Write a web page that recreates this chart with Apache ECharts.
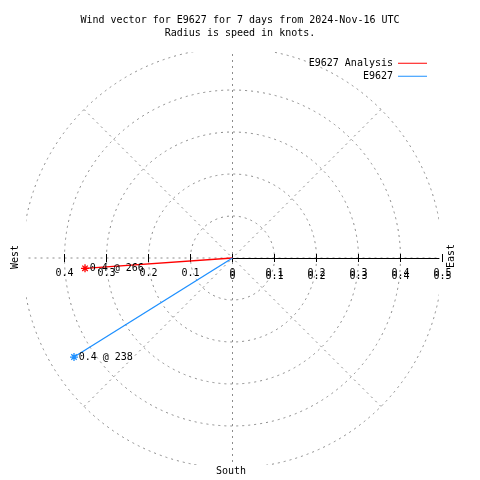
<!DOCTYPE html>
<html>
<head>
<meta charset="utf-8">
<style>html,body{margin:0;padding:0;background:#fff;}#c{width:480px;height:480px;}</style>
<script src="https://cdn.jsdelivr.net/npm/echarts@6/dist/echarts.min.js"></script>
</head>
<body>
<div id="c"></div>
<script>
// ---- data ----
const seriesNames = ['E9627 Analysis', 'E9627'];
const speeds = [0.352, 0.445];      // knots
const directions = [266, 238];      // degrees
const seriesColors = ['#ff0000', '#1e90ff'];
const tickValues = [-0.4, -0.3, -0.2, -0.1, 0, 0.1, 0.2, 0.3, 0.4, 0.5];
const eastTickValues = [0, 0.1, 0.2, 0.3, 0.4, 0.5];
const titleLines = ['Wind vector for E9627 for 7 days from 2024-Nov-16 UTC', 'Radius is speed in knots.'];
const compassLabels = ['West', 'East', 'South'];

const FONT = 'DejaVu Sans Mono';
const CX = 232.5, CY = 258, R = 210;
const star = 'path://M5,0L5,10M0,5L10,5M1.6,1.6L8.4,8.4M1.6,8.4L8.4,1.6';
const gridLine = { color: '#8c8c8c', type: [2, 4], width: 1 };

const series = seriesNames.map((name, i) => ({
  name: name,
  type: 'line',
  coordinateSystem: 'polar',
  polarIndex: 0,
  color: seriesColors[i],
  lineStyle: { color: seriesColors[i], width: 1.3 },
  itemStyle: { color: seriesColors[i], borderColor: seriesColors[i], borderWidth: 1.3 },
  animation: false,
  z: 5,
  data: [
    { value: [0, directions[i]], symbol: 'none' },
    {
      value: [speeds[i], directions[i]],
      symbol: star, symbolSize: 8,
      label: {
        show: true, position: 'right', distance: 0,
        formatter: speeds[i].toFixed(1) + ' @ ' + directions[i],
        fontFamily: FONT, fontSize: 10, color: '#000'
      }
    }
  ]
}));

const maskStyle = { fill: '#fff' };
const option = {
  animation: false,
  backgroundColor: '#fff',
  title: {
    text: titleLines.join('\n'),
    left: 'center', top: 13.5,
    padding: [0, 23, 0, 5],
    textStyle: { fontFamily: FONT, fontSize: 10, fontWeight: 'normal', color: '#000', lineHeight: 13 }
  },
  legend: {
    data: seriesNames,
    orient: 'vertical', align: 'right',
    right: 53, top: 57, padding: 0,
    icon: 'rect', itemWidth: 29, itemHeight: 1, itemGap: 0.5,
    itemStyle: { borderWidth: 0 },
    textStyle: { fontFamily: FONT, fontSize: 10, color: '#000', lineHeight: 12.5 }
  },
  polar: { center: [CX, CY], radius: R },
  angleAxis: {
    type: 'value', min: 0, max: 360, interval: 45,
    startAngle: 90, clockwise: true, z: 0,
    axisLine: { show: false }, axisTick: { show: false }, axisLabel: { show: false },
    splitLine: { show: true, lineStyle: gridLine }
  },
  radiusAxis: {
    type: 'value', min: 0, max: 0.5, interval: 0.1, z: 0,
    axisLine: { show: false }, axisTick: { show: false }, axisLabel: { show: false },
    splitLine: { show: true, lineStyle: gridLine }
  },
  grid: [
    { left: CX - R, width: 2 * R, top: CY - 4, height: 4 },
    { left: CX, width: 206.5, top: CY - 4, height: 4 }
  ],
  xAxis: [
    {
      gridIndex: 0, position: 'bottom', type: 'value', min: -0.5, max: 0.5, interval: 0.1, z: 3,
      axisLine: { show: false }, splitLine: { show: false },
      axisTick: { show: true, customValues: tickValues, length: 4, lineStyle: { color: '#000' } },
      axisLabel: { show: true, customValues: tickValues, margin: 10, fontFamily: FONT, fontSize: 10, color: '#000',
        formatter: v => String(Math.abs(v)) }
    },
    {
      gridIndex: 0, position: 'bottom', type: 'value', min: -0.5, max: 0.5, interval: 0.1, z: 3,
      axisLine: { show: false }, splitLine: { show: false },
      axisTick: { show: true, inside: true, customValues: tickValues, length: 4, lineStyle: { color: '#000' } },
      axisLabel: { show: true, inside: false, customValues: eastTickValues, margin: 13, fontFamily: FONT, fontSize: 10, color: '#000',
        formatter: v => String(Math.abs(v)) }
    },
    {
      gridIndex: 1, position: 'bottom', type: 'value', min: 0, max: 1, z: 3,
      axisLine: { show: true, lineStyle: { color: '#000', width: 1 } },
      axisTick: { show: false }, axisLabel: { show: false }, splitLine: { show: false }
    }
  ],
  yAxis: [
    { gridIndex: 0, type: 'value', min: 0, max: 1, show: false },
    { gridIndex: 1, type: 'value', min: 0, max: 1, show: false }
  ],
  graphic: [
    { type: 'rect', z: 1, silent: true, shape: { x: 185, y: 42, width: 95, height: 10 }, style: maskStyle },
    { type: 'rect', z: 1, silent: true, shape: { x: 185, y: 465, width: 95, height: 10 }, style: maskStyle },
    { type: 'rect', z: 1, silent: true, shape: { x: 14, y: 210, width: 12, height: 96 }, style: maskStyle },
    { type: 'rect', z: 1, silent: true, shape: { x: 439, y: 210, width: 10, height: 96 }, style: maskStyle },
    { type: 'text', z: 10, x: 15, y: 257, rotation: Math.PI / 2,
      style: { text: compassLabels[0], font: '10px ' + FONT, fill: '#000', align: 'center', verticalAlign: 'middle', textAlign: 'center', textVerticalAlign: 'middle' } },
    { type: 'text', z: 10, x: 451, y: 256, rotation: Math.PI / 2,
      style: { text: compassLabels[1], font: '10px ' + FONT, fill: '#000', align: 'center', verticalAlign: 'middle', textAlign: 'center', textVerticalAlign: 'middle' } },
    { type: 'text', z: 10, x: 231, y: 471,
      style: { text: compassLabels[2], font: '10px ' + FONT, fill: '#000', align: 'center', verticalAlign: 'middle', textAlign: 'center', textVerticalAlign: 'middle' } }
  ],
  series: series
};

const chart = echarts.init(document.getElementById('c'), null, { renderer: 'canvas' });
chart.setOption(option);
</script>
</body>
</html>
